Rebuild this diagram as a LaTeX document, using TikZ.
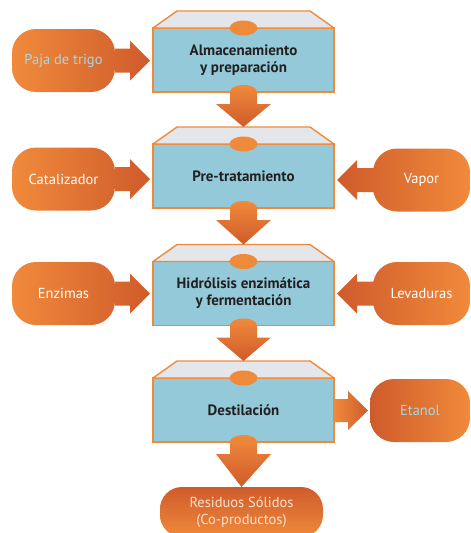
\documentclass[tikz,border=0pt]{standalone}
\usepackage{fontspec}
\setmainfont{PT Sans}
\usetikzlibrary{calc,backgrounds}
\definecolor{naranja}{HTML}{F08A3B}
\definecolor{naranjaosc}{HTML}{CF5B2B}
\definecolor{celeste}{HTML}{93C9D8}
\definecolor{gristapa}{HTML}{E5E6E9}
\definecolor{azultexto}{HTML}{A6D8E2}
\definecolor{negrotexto}{HTML}{231F20}
\tikzset{
    etapa/.style={draw=naranja,line width=1.8pt,fill=celeste,outer sep=0pt,minimum width=181pt,minimum height=64pt,align=center,text=negrotexto,font=\bfseries\fontsize{15}{17}\selectfont},
    insumo/.style={outer sep=0pt,minimum height=63pt,align=center,text=white,font=\fontsize{14.5}{17}\selectfont},
    tapa/.style={draw=naranja,line width=1.4pt,fill=gristapa,line join=round},
}
\newcommand{\entradaizq}[2]{%
    \coordinate (punta) at ($(#2.west |- #1.east)+(-3,0)$);
    \shade[left color=naranja,right color=naranjaosc] [rounded corners=24pt] (#1.north west) rectangle (#1.south east) [sharp corners] ($(#1.east)+(0,-12)$) -- ($(punta)+(-20,-12)$) -- ($(punta)+(-20,-20)$) -- (punta) -- ($(punta)+(-20,20)$) -- ($(punta)+(-20,12)$) -- ($(#1.east)+(0,12)$) -- cycle;
}
\newcommand{\entradader}[2]{%
    \coordinate (punta) at ($(#2.east |- #1.west)+(3,0)$);
    \shade[left color=naranjaosc,right color=naranja] [rounded corners=24pt] (#1.north west) rectangle (#1.south east) [sharp corners] ($(#1.west)+(0,-12)$) -- ($(punta)+(20,-12)$) -- ($(punta)+(20,-20)$) -- (punta) -- ($(punta)+(20,20)$) -- ($(punta)+(20,12)$) -- ($(#1.west)+(0,12)$) -- cycle;
}
\newcommand{\flechaabajo}[2]{%
    \shade[top color=naranja,bottom color=naranjaosc] ($(#1.south)+(-13.5,0)$) arc[start angle=180,end angle=0,x radius=13.5pt,y radius=7pt] -- ($(#1.south)+(13.5,12)$) -- ($(#1.south)+(27.5,12)$) -- (#2) -- ($(#1.south)+(-27.5,12)$) -- ($(#1.south)+(-13.5,12)$) -- cycle;
}
\begin{document}
\begin{tikzpicture}[x=1pt,y=-1pt]
    \useasboundingbox (0,0) rectangle (471,533);
    \node[etapa] (almacen) at (243.5,60) {Almacenamiento\\y preparación};
    \node[etapa] (pretrat) at (243.5,176) {Pre-tratamiento};
    \node[etapa] (hidrol) at (243.5,293.5) {Hidrólisis enzimática\\y fermentación};
    \node[etapa] (destil) at (243.5,410) {Destilación};
    \node[insumo,minimum width=103pt,text=azultexto] (paja) at (63.5,60.5) {Paja de trigo};
    \node[insumo,minimum width=103pt] (catal) at (63.5,179) {Catalizador};
    \node[insumo,minimum width=103pt] (enzimas) at (63.5,293.5) {Enzimas};
    \node[insumo,minimum width=97pt] (vapor) at (421.5,180) {Vapor};
    \node[insumo,minimum width=97pt] (levad) at (421.5,293.5) {Levaduras};
    \node[insumo,minimum width=100pt,rounded corners=24pt,left color=naranjaosc,right color=naranja,text=azultexto] (etanol) at (420,410.5) {Etanol};
    \node[insumo,minimum width=163pt,minimum height=50pt,rounded corners=22pt,top color=naranjaosc,bottom color=naranja,text=naranja!25!white] (residuos) at (241.5,512) {Residuos Sólidos\\(Co-productos)};
    \begin{scope}[on background layer]
        \entradaizq{paja}{almacen}
        \entradaizq{catal}{pretrat}
        \entradaizq{enzimas}{hidrol}
        \entradader{vapor}{pretrat}
        \entradader{levad}{hidrol}
    \end{scope}
    \foreach \e in {almacen,pretrat,hidrol,destil}{
        \draw[tapa] (\e.north west) -- ++(24,-17) -- ++(133,0) -- (\e.north east) -- cycle;
        \coordinate (\e-tapa) at ($(\e.north)+(0,-17)$);
        \fill[naranja] (\e.north) ellipse[x radius=14pt,y radius=7.5pt];
    }
    \flechaabajo{almacen}{pretrat-tapa}
    \flechaabajo{pretrat}{hidrol-tapa}
    \flechaabajo{hidrol}{destil-tapa}
    \flechaabajo{destil}{residuos.north}
    \coordinate (salida) at (destil.east |- etanol.west);
    \shade[left color=naranja,right color=naranjaosc] ($(salida)+(0,-11.5)$) -- ($(salida)+(14,-11.5)$) -- ($(salida)+(14,-19.5)$) -- ($(etanol.west)+(-2,0)$) -- ($(salida)+(14,19.5)$) -- ($(salida)+(14,11.5)$) -- ($(salida)+(0,11.5)$) -- cycle;
\end{tikzpicture}
\end{document}
